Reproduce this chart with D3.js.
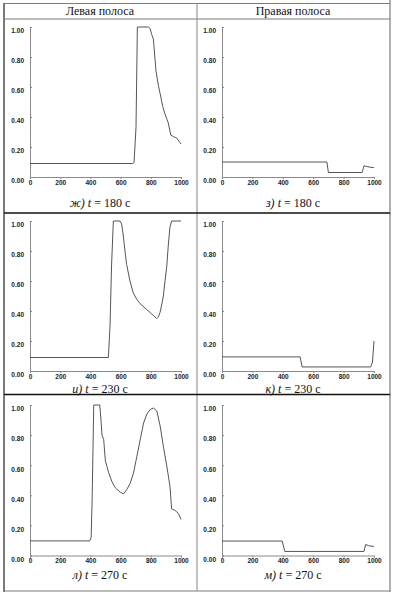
<!DOCTYPE html>
<html><head><meta charset="utf-8">
<script src="https://cdn.jsdelivr.net/npm/d3@7"></script>
<style>
html,body{margin:0;padding:0;background:#fff;}
svg{display:block;}
</style></head>
<body>
<script>
// ---- data ----
const columnTitles = ["Левая полоса", "Правая полоса"];
const captionLetters = ["ж)", "з)", "и)", "к)", "л)", "м)"];
const captionTimes = [180, 180, 230, 230, 270, 270];
const xTicks = [0, 200, 400, 600, 800, 1000];
const yTicks = [0, 0.2, 0.4, 0.6, 0.8, 1.0];

const left180 = [[0,0.09],[680,0.09],[689,0.095],[702,0.33],[711,1.0],[784,1.0],[795,0.99],[806,0.95],[817,0.92],[821,0.87],[834,0.71],[850,0.61],[865,0.54],[879,0.47],[894,0.42],[916,0.36],[932,0.28],[949,0.27],[971,0.26],[993,0.23],[1000,0.22]];
const right180 = [[0,0.1],[690,0.1],[700,0.03],[922,0.03],[934,0.075],[960,0.068],[1000,0.062]];
const left230 = [[0,0.09],[519,0.09],[530,0.3],[540,0.7],[552,1.0],[596,1.0],[607,0.98],[618,0.9],[629,0.8],[640,0.71],[662,0.6],[684,0.52],[706,0.48],[728,0.45],[773,0.41],[817,0.37],[839,0.35],[850,0.36],[861,0.39],[872,0.44],[883,0.5],[894,0.6],[905,0.69],[916,0.84],[927,0.96],[938,1.0],[1000,1.0]];
const right230 = [[0,0.094],[514,0.094],[527,0.027],[978,0.027],[990,0.06],[1000,0.2]];
const left270 = [[0,0.097],[396,0.097],[405,0.12],[411,0.35],[418,0.75],[422,1.0],[462,1.0],[470,0.9],[477,0.8],[488,0.77],[499,0.63],[510,0.59],[521,0.55],[543,0.49],[565,0.45],[598,0.42],[620,0.41],[642,0.44],[664,0.48],[686,0.55],[708,0.66],[730,0.77],[752,0.88],[774,0.94],[796,0.97],[818,0.98],[840,0.96],[862,0.86],[884,0.72],[905,0.6],[927,0.46],[938,0.31],[960,0.3],[982,0.28],[1000,0.24]];
const right270 = [[0,0.096],[396,0.096],[413,0.027],[934,0.027],[945,0.073],[965,0.065],[1000,0.06]];

const panelData = [left180, right180, left230, right230, left270, right270];

// ---- layout ----
const W = 396, H = 596;
const colX = [[30, 181], [222, 374]];
const rowY = [[177, 27], [371, 221], [555.5, 405]];
const colCenter = [100, 293];
const captionY = [203, 389, 575];

const svg = d3.select("body").append("svg").attr("width", W).attr("height", H);

// table grid
const grid = svg.append("g");
const gray = "#7a7a7a";
grid.append("line").attr("x1",4).attr("x2",4).attr("y1",3).attr("y2",592).attr("stroke",gray).attr("stroke-width",2);
grid.append("line").attr("x1",390).attr("x2",390).attr("y1",0).attr("y2",592).attr("stroke",gray).attr("stroke-width",1.2);
grid.append("line").attr("x1",4).attr("x2",390).attr("y1",3.5).attr("y2",3.5).attr("stroke",gray).attr("stroke-width",1.2);
grid.append("line").attr("x1",4).attr("x2",390).attr("y1",591).attr("y2",591).attr("stroke",gray).attr("stroke-width",1.2);
grid.append("line").attr("x1",4).attr("x2",390).attr("y1",19).attr("y2",19).attr("stroke",gray).attr("stroke-width",1.2);
grid.append("line").attr("x1",197).attr("x2",197).attr("y1",3).attr("y2",591).attr("stroke","#999").attr("stroke-width",1.2);
grid.append("line").attr("x1",4).attr("x2",390).attr("y1",213).attr("y2",213).attr("stroke","#111").attr("stroke-width",1.5);
grid.append("line").attr("x1",4).attr("x2",390).attr("y1",394.5).attr("y2",394.5).attr("stroke","#111").attr("stroke-width",1.5);

// column titles
columnTitles.forEach((t, i) => {
  svg.append("text").attr("x", colCenter[i]).attr("y", 11)
    .attr("text-anchor","middle").attr("dominant-baseline","central")
    .style("font-family","'Liberation Serif','Times New Roman',serif").style("font-size","12px")
    .attr("fill","#111").text(t);
});

const fmtY = d3.format(".2f");

panelData.forEach((data, i) => {
  const col = i % 2, row = Math.floor(i / 2);
  const x = d3.scaleLinear().domain([0, 1000]).range(colX[col]);
  const y = d3.scaleLinear().domain([0, 1]).range(rowY[row]);
  const g = svg.append("g");

  const xAxis = g.append("g").attr("transform", `translate(0,${rowY[row][0]})`)
    .call(d3.axisBottom(x).tickValues(xTicks).tickSize(2).tickPadding(2).tickFormat(d3.format("d")));
  const yAxis = g.append("g").attr("transform", `translate(${colX[col][0]},0)`)
    .call(d3.axisLeft(y).tickValues(yTicks).tickSize(-2).tickPadding(6).tickFormat(fmtY));

  [xAxis, yAxis].forEach(a => {
    a.select(".domain").attr("stroke", "#8a8a8a").attr("stroke-width", 1);
    a.selectAll(".tick line").attr("stroke", "#8a8a8a");
    a.selectAll(".tick text").attr("fill", "#222")
      .style("font-family", "'Liberation Sans',Arial,sans-serif")
      .style("font-size", "6.5px").style("font-weight", "bold");
  });
  yAxis.selectAll(".tick text").attr("dy", "0.9em");
  xAxis.selectAll(".tick text").attr("dy", "0.6em");

  const line = d3.line().x(d => x(d[0])).y(d => y(d[1]));
  g.append("path").datum(data).attr("d", line)
    .attr("fill", "none").attr("stroke", "#555").attr("stroke-width", 1);

  const cap = g.append("text").attr("x", colCenter[col]).attr("y", captionY[row])
    .attr("text-anchor", "middle").attr("dominant-baseline", "central")
    .style("font-family", "'Liberation Serif','Times New Roman',serif").style("font-size", "12px")
    .attr("fill", "#111");
  cap.append("tspan").style("font-style", "italic").text(captionLetters[i] + " ");
  cap.append("tspan").style("font-style", "italic").text("t");
  cap.append("tspan").text(" = " + captionTimes[i] + " с");
});
</script>
</body></html>
